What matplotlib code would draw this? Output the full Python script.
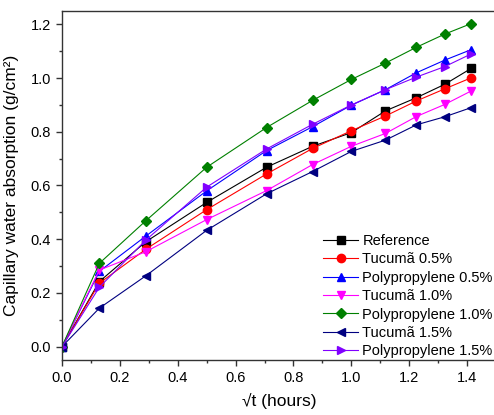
import matplotlib
matplotlib.use('Agg')
import matplotlib.pyplot as plt
from matplotlib.ticker import MultipleLocator

plt.rcParams['font.family'] = ['Liberation Sans', 'DejaVu Sans']

sqrt_t = [0.0, 0.129, 0.289, 0.5, 0.707, 0.866, 1.0, 1.118, 1.225, 1.323, 1.414]

reference = [0.0, 0.242, 0.390, 0.537, 0.668, 0.746, 0.797, 0.878, 0.927, 0.977, 1.036]
tucuma_05 = [0.0, 0.236, 0.362, 0.510, 0.643, 0.738, 0.804, 0.859, 0.915, 0.960, 1.001]
pp_05 = [0.0, 0.280, 0.411, 0.580, 0.730, 0.819, 0.899, 0.957, 1.020, 1.067, 1.106]
tucuma_10 = [0.0, 0.285, 0.353, 0.473, 0.581, 0.678, 0.746, 0.794, 0.857, 0.902, 0.952]
pp_10 = [0.0, 0.310, 0.468, 0.668, 0.816, 0.917, 0.995, 1.056, 1.115, 1.164, 1.203]
tucuma_15 = [0.0, 0.143, 0.263, 0.433, 0.569, 0.652, 0.727, 0.769, 0.826, 0.856, 0.890]
pp_15 = [0.0, 0.221, 0.396, 0.594, 0.736, 0.828, 0.900, 0.957, 1.004, 1.043, 1.090]

series = [
    ('Reference', reference, 'black', 's'),
    ('Tucumã 0.5%', tucuma_05, 'red', 'o'),
    ('Polypropylene 0.5%', pp_05, 'blue', '^'),
    ('Tucumã 1.0%', tucuma_10, 'magenta', 'v'),
    ('Polypropylene 1.0%', pp_10, '#008000', 'D'),
    ('Tucumã 1.5%', tucuma_15, '#000080', '<'),
    ('Polypropylene 1.5%', pp_15, '#8000ff', '>'),
]

fig = plt.figure(figsize=(4.94, 4.15), dpi=100)
ax = fig.add_axes([62 / 494, 55 / 415, 434 / 494, 349 / 415])

for label, ys, color, marker in series:
    ms = 5.2 if marker == 'D' else 6.0
    ax.plot(sqrt_t, ys, color=color, marker=marker, markersize=ms,
            linewidth=0.8, label=label)

ax.set_xlim(0, 1.5)
ax.set_ylim(-0.05, 1.25)
ax.xaxis.set_major_locator(MultipleLocator(0.2))
ax.xaxis.set_minor_locator(MultipleLocator(0.1))
ax.yaxis.set_major_locator(MultipleLocator(0.2))
ax.yaxis.set_minor_locator(MultipleLocator(0.1))
ax.tick_params(which='both', direction='out', labelsize=10.5, color='#333333',
               width=1.0)
ax.tick_params(which='major', length=4.5)
ax.tick_params(which='minor', length=2.5)
for s in ax.spines.values():
    s.set_linewidth(1.0)
    s.set_color('#333333')

ax.set_xlabel('√t (hours)', fontsize=12.5, labelpad=6)
ax.set_ylabel('Capillary water absorption (g/cm²)', fontsize=12.5, labelpad=8)

ax.legend(loc='upper left', bbox_to_anchor=(323 / 494, 1 - 234 / 415),
          bbox_transform=fig.transFigure, frameon=False, fontsize=10.5,
          handlelength=2.4, handletextpad=0.3, labelspacing=0.3,
          borderpad=0, borderaxespad=0)

fig.savefig('out.png', dpi=100)
